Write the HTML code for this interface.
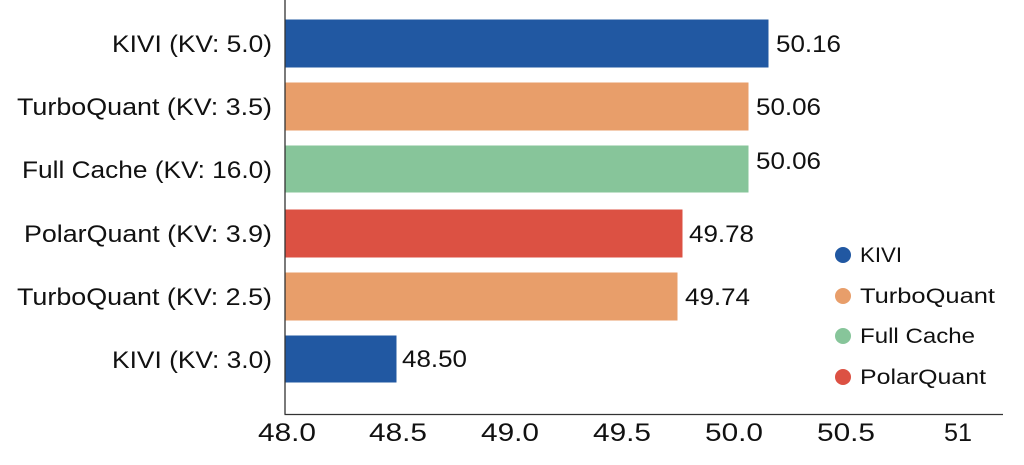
<!DOCTYPE html><html><head><style>body{margin:0;background:#fff}</style></head><body>
<svg width="1024" height="460" xmlns="http://www.w3.org/2000/svg" font-family="Liberation Sans, sans-serif">
<rect width="1024" height="460" fill="#fff"/>
<g stroke="#fff" stroke-width="1">
<rect x="285" y="19" width="484" height="49" fill="#2158a2"/>
<rect x="285" y="82" width="464" height="49" fill="#e89e6a"/>
<rect x="285" y="145" width="464" height="48" fill="#87c59a"/>
<rect x="285" y="209" width="398" height="49" fill="#dc5143"/>
<rect x="285" y="272" width="393" height="49" fill="#e89e6a"/>
<rect x="285" y="335" width="112" height="48" fill="#2158a2"/>
</g>
<line x1="285" y1="0" x2="285" y2="414.5" stroke="#333" stroke-width="1.3"/>
<line x1="284.5" y1="414.5" x2="1003" y2="414.5" stroke="#333" stroke-width="1.3"/>
<g font-size="24" fill="#111" text-anchor="end" lengthAdjust="spacingAndGlyphs">
<text x="272" y="52" textLength="160" lengthAdjust="spacingAndGlyphs">KIVI (KV: 5.0)</text>
<text x="272" y="115" textLength="255" lengthAdjust="spacingAndGlyphs">TurboQuant (KV: 3.5)</text>
<text x="272" y="178" textLength="250" lengthAdjust="spacingAndGlyphs">Full Cache (KV: 16.0)</text>
<text x="272" y="242" textLength="248" lengthAdjust="spacingAndGlyphs">PolarQuant (KV: 3.9)</text>
<text x="272" y="305" textLength="255" lengthAdjust="spacingAndGlyphs">TurboQuant (KV: 2.5)</text>
<text x="272" y="368" textLength="160" lengthAdjust="spacingAndGlyphs">KIVI (KV: 3.0)</text>
</g>
<g font-size="24" fill="#111">
<text x="776" y="52" textLength="65" lengthAdjust="spacingAndGlyphs">50.16</text>
<text x="756" y="115" textLength="65" lengthAdjust="spacingAndGlyphs">50.06</text>
<text x="756" y="169" textLength="65" lengthAdjust="spacingAndGlyphs">50.06</text>
<text x="689" y="242" textLength="65" lengthAdjust="spacingAndGlyphs">49.78</text>
<text x="685" y="305" textLength="65" lengthAdjust="spacingAndGlyphs">49.74</text>
<text x="402" y="367" textLength="65" lengthAdjust="spacingAndGlyphs">48.50</text>
</g>
<g font-size="25" fill="#111" text-anchor="middle">
<text x="287" y="441" textLength="58" lengthAdjust="spacingAndGlyphs">48.0</text>
<text x="398" y="441" textLength="58" lengthAdjust="spacingAndGlyphs">48.5</text>
<text x="510" y="441" textLength="58" lengthAdjust="spacingAndGlyphs">49.0</text>
<text x="622" y="441" textLength="58" lengthAdjust="spacingAndGlyphs">49.5</text>
<text x="734" y="441" textLength="58" lengthAdjust="spacingAndGlyphs">50.0</text>
<text x="846" y="441" textLength="58" lengthAdjust="spacingAndGlyphs">50.5</text>
<text x="958" y="441" textLength="28" lengthAdjust="spacingAndGlyphs">51</text>
</g>
<g font-size="21" fill="#111">
<circle cx="843" cy="255" r="8" fill="#2158a2"/><text x="860" y="262" textLength="42" lengthAdjust="spacingAndGlyphs">KIVI</text>
<circle cx="843" cy="296" r="8" fill="#e89e6a"/><text x="860" y="303" textLength="135" lengthAdjust="spacingAndGlyphs">TurboQuant</text>
<circle cx="843" cy="336" r="8" fill="#87c59a"/><text x="860" y="343" textLength="115" lengthAdjust="spacingAndGlyphs">Full Cache</text>
<circle cx="843" cy="377" r="8" fill="#dc5143"/><text x="860" y="384" textLength="126" lengthAdjust="spacingAndGlyphs">PolarQuant</text>
</g>
</svg>
</body></html>
